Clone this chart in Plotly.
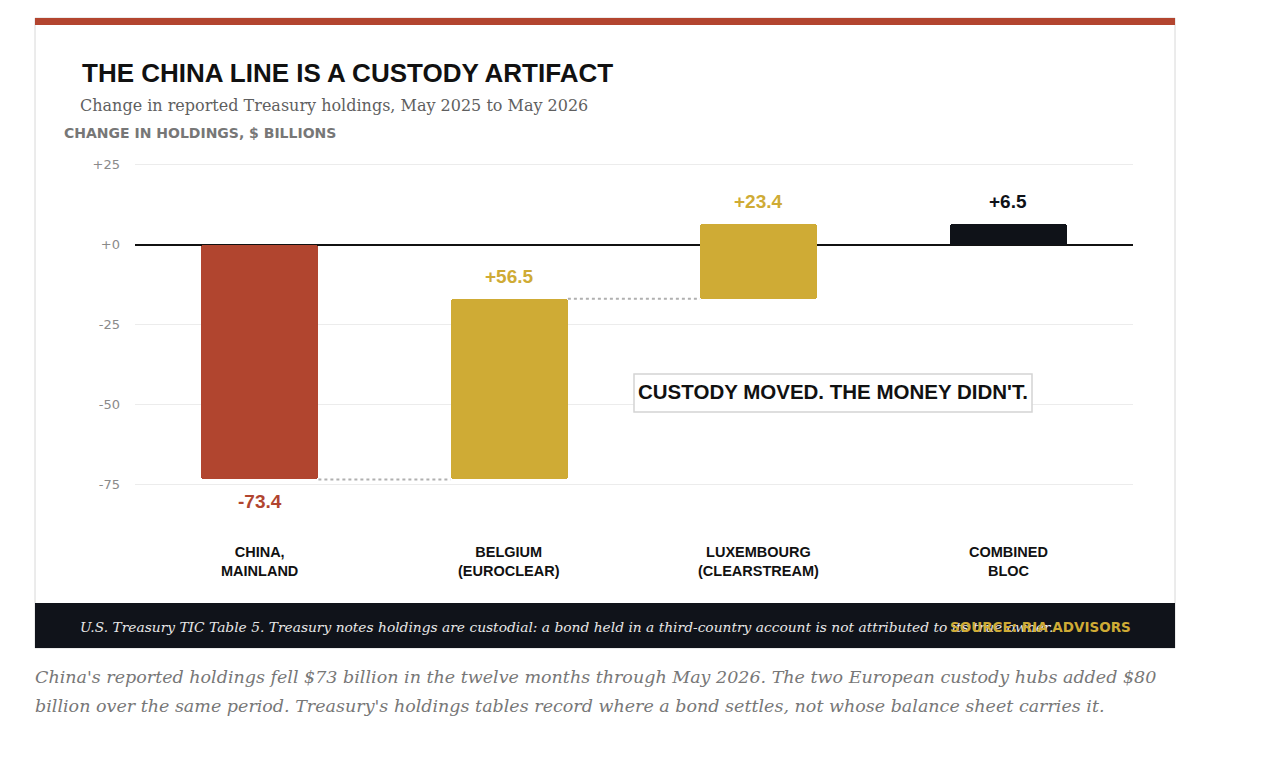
import plotly.graph_objects as go

# ---- data ----
categories = ["CHINA,<br>MAINLAND", "BELGIUM<br>(EUROCLEAR)", "LUXEMBOURG<br>(CLEARSTREAM)", "COMBINED<br>BLOC"]
changes = [-73.4, 56.5, 23.4, 6.5]
measures = ["relative", "relative", "relative", "total"]
value_labels = ["-73.4", "+56.5", "+23.4", "+6.5"]
tick_vals = [25, 0, -25, -50, -75]
tick_text = ["+25", "+0", "-25", "-50", "-75"]
caption_lines = [
    "China's reported holdings fell $73 billion in the twelve months through May 2026. The two European custody hubs added $80",
    "billion over the same period. Treasury's holdings tables record where a bond settles, not whose balance sheet carries it.",
]

RED = "#b1452f"
GOLD = "#cfab35"
INK = "#0f1218"

# ---- waterfall geometry from data ----
bases, ends = [], []
running = 0.0
for v, m in zip(changes, measures):
    if m == "total":
        bases.append(0.0)
        ends.append(v)
        running = v
    else:
        bases.append(running)
        running = running + v
        ends.append(running)
heights = [e - b for b, e in zip(bases, ends)]
colors = [INK if m == "total" else (RED if h < 0 else GOLD) for h, m in zip(heights, measures)]
label_colors = colors

W, H = 1266, 760
L, R, T, B = 135, 133, 159, 269
PW, PH = W - L - R, H - T - B


def px(x):
    return (x - L) / PW


def py(y):
    return (H - B - y) / PH


BAR_W = 0.47
xs = list(range(len(categories)))

fig = go.Figure()
fig.add_trace(go.Bar(
    x=xs, y=heights, base=bases, width=BAR_W,
    marker=dict(color=colors, line=dict(width=0), cornerradius=3),
    hoverinfo="skip", showlegend=False,
))

shapes = []
# card background and border
shapes.append(dict(type="rect", xref="paper", yref="paper", x0=px(35), x1=px(1175), y0=py(18), y1=py(648),
                   fillcolor="white", line=dict(color="#d8d8d8", width=1), layer="below"))
# red top strip
shapes.append(dict(type="rect", xref="paper", yref="paper", x0=px(35), x1=px(1175), y0=py(18), y1=py(25),
                   fillcolor="#b3452f", line=dict(width=0), layer="above"))
# footer band
shapes.append(dict(type="rect", xref="paper", yref="paper", x0=px(35), x1=px(1175), y0=py(603), y1=py(648),
                   fillcolor="#10131a", line=dict(width=0), layer="above"))
# connectors (skip into total)
for i in range(len(categories) - 1):
    if measures[i + 1] == "total":
        continue
    shapes.append(dict(type="line", xref="x", yref="y", x0=i + BAR_W / 2, x1=i + 1 - BAR_W / 2,
                       y0=ends[i], y1=ends[i], line=dict(color="#b0b0b0", width=2, dash="dot"), layer="below"))
# callout box
shapes.append(dict(type="rect", xref="paper", yref="paper", x0=px(634), x1=px(1032), y0=py(412), y1=py(374),
                   fillcolor="white", line=dict(color="#d4d4d4", width=1.5), layer="above"))

annotations = []
# value labels
for i, (e, h, lab, c) in enumerate(zip(ends, heights, value_labels, label_colors)):
    annotations.append(dict(x=i, y=e, xref="x", yref="y", text=f"<b>{lab}</b>", showarrow=False,
                            yshift=(-22 if h < 0 else 22),
                            font=dict(family="Liberation Sans, Arial", size=19, color=c)))
# category labels
for i, cat in enumerate(categories):
    annotations.append(dict(x=i, y=py(561), xref="x", yref="paper", text=f"<b>{cat}</b>", showarrow=False,
                            font=dict(family="Liberation Sans, Arial", size=14.5, color="#111"),
                            align="center", yanchor="middle"))
# title
annotations.append(dict(x=px(80), y=py(73), xref="paper", yref="paper", xanchor="left", yanchor="middle",
                        text="<b>THE CHINA LINE IS A CUSTODY ARTIFACT</b>", showarrow=False,
                        font=dict(family="Liberation Sans, Arial", size=26, color="#111")))
annotations.append(dict(x=px(78), y=py(105), xref="paper", yref="paper", xanchor="left", yanchor="middle",
                        text="Change in reported Treasury holdings, May 2025 to May 2026", showarrow=False,
                        font=dict(family="DejaVu Serif, Georgia, serif", size=16, color="#5f5f5f")))
annotations.append(dict(x=px(62), y=py(133), xref="paper", yref="paper", xanchor="left", yanchor="middle",
                        text="<b>CHANGE IN HOLDINGS, $ BILLIONS</b>", showarrow=False,
                        font=dict(family="DejaVu Sans, Verdana", size=14, color="#777")))
# callout text
annotations.append(dict(x=px(833), y=py(391), xref="paper", yref="paper", xanchor="center", yanchor="middle",
                        text="<b>CUSTODY MOVED. THE MONEY DIDN'T.</b>", showarrow=False,
                        font=dict(family="Liberation Sans, Arial", size=20.5, color="#111")))
# footer texts
annotations.append(dict(x=px(78), y=py(627), xref="paper", yref="paper", xanchor="left", yanchor="middle",
                        text="<i>U.S. Treasury TIC Table 5. Treasury notes holdings are custodial: a bond held in a third-country account is not attributed to its true owner.</i>",
                        showarrow=False, font=dict(family="DejaVu Serif, Georgia, serif", size=13.8, color="#e8e8e8")))
annotations.append(dict(x=px(1133), y=py(627), xref="paper", yref="paper", xanchor="right", yanchor="middle",
                        text="<b>SOURCE: RIA ADVISORS</b>", showarrow=False,
                        font=dict(family="DejaVu Sans, Verdana", size=13.5, color=GOLD)))
# caption
for line, yy in zip(caption_lines, [677, 706]):
    annotations.append(dict(x=px(33), y=py(yy), xref="paper", yref="paper", xanchor="left", yanchor="middle",
                            text=f"<i>{line}</i>", showarrow=False, align="left",
                            font=dict(family="DejaVu Serif, Georgia, serif", size=17.5, color="#777")))

fig.update_layout(
    width=W, height=H,
    margin=dict(l=L, r=R, t=T, b=B, pad=0),
    paper_bgcolor="white", plot_bgcolor="rgba(0,0,0,0)",
    shapes=shapes, annotations=annotations,
    bargap=0, showlegend=False,
    xaxis=dict(range=[-0.5, len(categories) - 0.5], showticklabels=False, showgrid=False, zeroline=False,
               showline=False, ticks=""),
    yaxis=dict(range=[-77, 26.75], tickvals=tick_vals, ticktext=tick_text, showgrid=True, gridcolor="#ececec",
               gridwidth=1, zeroline=True, zerolinecolor="#111", zerolinewidth=2, showline=False, ticks="",
               ticklabelstandoff=14,
               tickfont=dict(family="DejaVu Sans, Verdana", size=13, color="#8a8a8a")),
)

fig.write_html("out.html")
